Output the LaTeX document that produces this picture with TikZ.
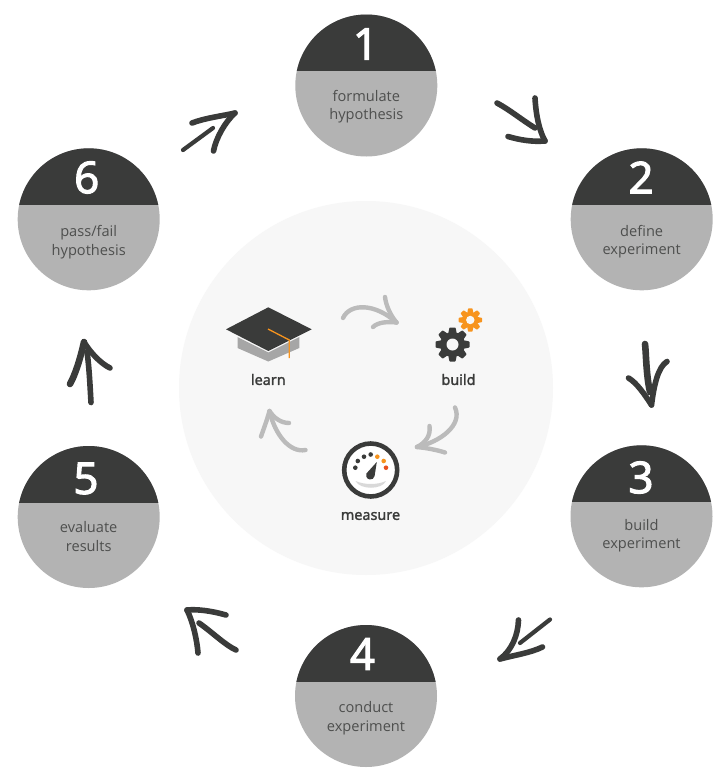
\documentclass[tikz,border=0pt]{standalone}
\usepackage{fontspec}
\setmainfont{Open Sans}
\newfontfamily\heavyface{Noto Sans}[FakeBold=2.2]
\newfontfamily\semiface{Noto Sans}[FakeBold=1.6]
\definecolor{ink}{HTML}{3A3B3A}
\definecolor{lowgray}{HTML}{B3B3B3}
\definecolor{pale}{HTML}{F7F7F7}
\definecolor{soft}{HTML}{BBBBBB}
\definecolor{capgray}{HTML}{A6A6A6}
\definecolor{amber}{HTML}{F7941E}
\definecolor{redorange}{HTML}{E8501F}
\tikzset{
  disc/.style={circle,fill=lowgray,draw=none,minimum size=142pt,inner sep=0pt,outer sep=0pt},
  numeral/.style={text=white,font=\fontsize{44}{44}\heavyface,inner sep=0pt},
  caption/.style={text=ink!90,font=\fontsize{14.6}{18.5}\selectfont,align=center,inner sep=0pt},
  iconlabel/.style={text=ink,font=\fontsize{14.4}{16}\semiface,inner sep=0pt},
  sketch/.style={draw=ink,line width=5.6pt,line cap=round,line join=round},
  thin sketch/.style={draw=ink,line width=4.2pt,line cap=round,line join=round},
  inner arrow/.style={draw=soft,line width=4.4pt,line cap=round,line join=round}
}
% number, centre x, centre y, divider y, numeral x, numeral y, caption y, two caption lines
\newcommand{\stepdisc}[9]{%
  \node[disc] (s#1) at (#2,#3) {};
  \begin{scope}
    \clip (#2,#3) circle (71);
    \fill[ink] (#2-72,#3-72) rectangle (#2+72,#4);
  \end{scope}
  \node[numeral] (n#1) at (#5,#6) {#1};
  \node[caption] (c#1) at (#2,#7) {#8\\#9};
}
\newcommand{\gearicon}[7]{% x,y,r body,r tip,half width,hole,colour
  \begin{scope}[shift={(#1,#2)}]
    \fill[#7] (0,0) circle (#3);
    \foreach \a in {0,45,...,315}{
      \fill[#7,rotate=\a,rounded corners=0.6pt] (-#5,-#3+1) -- (-#5*0.72,-#4) -- (#5*0.72,-#4) -- (#5,-#3+1) -- cycle;
    }
    \fill[pale] (0,0) circle (#6);
  \end{scope}
}
\begin{document}
\begin{tikzpicture}[x=1pt,y=-1pt]
\useasboundingbox (0,0) rectangle (722,774);
\fill[white] (0,0) rectangle (722,774);
\node[circle,fill=pale,minimum size=374pt,inner sep=0pt] (core) at (366,388) {};

\stepdisc{1}{366.3}{85.5}{71.3}{365.5}{44}{106.5}{formulate}{hypothesis}
\stepdisc{2}{641.7}{219.3}{205}{641}{177.5}{241.5}{define}{experiment}
\stepdisc{3}{641.5}{516.3}{502.3}{641}{477.5}{535.5}{build}{experiment}
\stepdisc{4}{366}{696}{682.3}{362.5}{654}{718}{conduct}{experiment}
\stepdisc{5}{88.7}{517}{503.3}{86}{478.5}{536.3}{evaluate}{results}
\stepdisc{6}{88.7}{219.3}{205}{86.7}{177.5}{242}{pass/fail}{hypothesis}

% hand-drawn arrows between the steps
\coordinate (atail) at (497,103);
\coordinate (ahead) at (545,141);
\draw[sketch] (atail) .. controls (510,110) and (522,120) .. (535,128);
\draw[sketch] (535,98) .. controls (536,115) and (539,130) .. (ahead);
\draw[sketch] (508,136.5) .. controls (520,140) and (532,142) .. (ahead);

\coordinate (btail) at (645,344);
\coordinate (bhead) at (651.5,405);
\draw[sketch,line width=6.6pt] (btail) .. controls (646,350) and (646,375) .. (650,392);
\draw[sketch] (628.5,378) .. controls (637,383) and (645,395) .. (bhead);
\draw[sketch] (667,361.5) .. controls (658,367) and (654,385) .. (bhead);

\coordinate (ctail) at (550,619.5);
\coordinate (chead) at (500,659);
\draw[thin sketch] (ctail) -- (520,643);
\draw[sketch] (518.5,620) .. controls (518,635) and (512,650) .. (chead);
\draw[sketch] (542.5,647) .. controls (530,653) and (515,655) .. (chead);

\coordinate (dtail) at (236,650);
\coordinate (dhead) at (187,610);
\draw[sketch] (dtail) .. controls (225,645) and (212,632) .. (199,623);
\draw[sketch] (226,615) .. controls (212,611) and (198,609) .. (dhead);
\draw[sketch] (198,653) .. controls (197,640) and (193,622) .. (dhead);

\coordinate (etail) at (91,402.5);
\coordinate (ehead) at (84,342);
\draw[sketch] (etail) .. controls (90,385) and (89,365) .. (87,352);
\draw[sketch,line width=6.6pt] (70,384) .. controls (75,375) and (80,360) .. (ehead);
\draw[sketch] (ehead) .. controls (90,352) and (100,363) .. (110,368);

\coordinate (ftail) at (183,150);
\coordinate (fhead) at (235,113);
\draw[thin sketch] (ftail) -- (213,128);
\draw[sketch] (192,123) .. controls (205,118) and (222,116) .. (fhead);
\draw[sketch] (213.5,151) .. controls (216,138) and (225,122) .. (fhead);

% inner cycle arrows
\coordinate (gtail) at (343,318);
\coordinate (ghead) at (396.5,322.5);
\draw[inner arrow] (gtail) .. controls (350,303) and (375,303) .. (ghead);
\draw[inner arrow] (385,297) .. controls (386,306) and (391,316) .. (ghead);
\draw[inner arrow] (373,327) .. controls (378,322) and (388,321.5) .. (ghead);

\coordinate (htail) at (455,407.5);
\coordinate (hhead) at (417,447);
\draw[inner arrow] (htail) .. controls (463,425) and (440,442) .. (hhead);
\draw[inner arrow] (429.5,426) .. controls (431,436) and (425,443) .. (hhead);
\draw[inner arrow] (445,452.5) .. controls (437,450) and (427,448) .. (hhead);

\coordinate (itail) at (305.5,450);
\coordinate (ihead) at (269.5,411);
\draw[inner arrow] (itail) .. controls (290,453) and (275,435) .. (ihead);
\draw[inner arrow] (261,436.5) .. controls (264,428) and (267,420) .. (ihead);
\draw[inner arrow] (289,423) .. controls (281,423) and (274,418) .. (ihead);

% learn: mortar board
\fill[capgray] (237.5,337) -- (268.3,352.5) -- (299.3,337) -- (299.3,348) -- (268.3,361.5) -- (237.5,348) -- cycle;
\fill[ink] (268.3,307.3) -- (311.7,329.3) -- (268.3,351) -- (226,329.3) -- cycle;
\draw[amber,line width=1.3pt] (268,329) -- (289.3,340) -- (289.3,358);
\node[iconlabel] (learn) at (268.3,379.5) {learn};

% build: gears
\gearicon{452.5}{344.5}{12.5}{17}{4.2}{6}{ink}
\gearicon{470.3}{320}{8.2}{11.7}{3}{4.2}{amber}
\node[iconlabel] (build) at (458.5,379.5) {build};

% measure: gauge
\fill[white] (370.7,470) circle (27);
\begin{scope}
  \clip (370.7,470) circle (26);
  \fill[black!15] (355.5,481) .. controls (365,485) and (377,485) .. (386,481) .. controls (382,490) and (360,490) .. cycle;
\end{scope}
\draw[ink,line width=4.6pt] (370.7,470) circle (26.5);
\foreach \p in {(355.3,467.7),(357.8,461),(364,456.7),(370.7,454.5)}
  \fill[ink] \p circle (2.3);
\fill[amber] (377.3,456.7) circle (2.3);
\fill[amber] (383.7,461) circle (2.3);
\fill[redorange] (386,467.7) circle (2.3);
\fill[ink] (376.8,462) -- (374.6,476) arc (10:205:4.3) -- cycle;
\node[iconlabel] (measure) at (370.5,516) {measure};
\end{tikzpicture}
\end{document}
